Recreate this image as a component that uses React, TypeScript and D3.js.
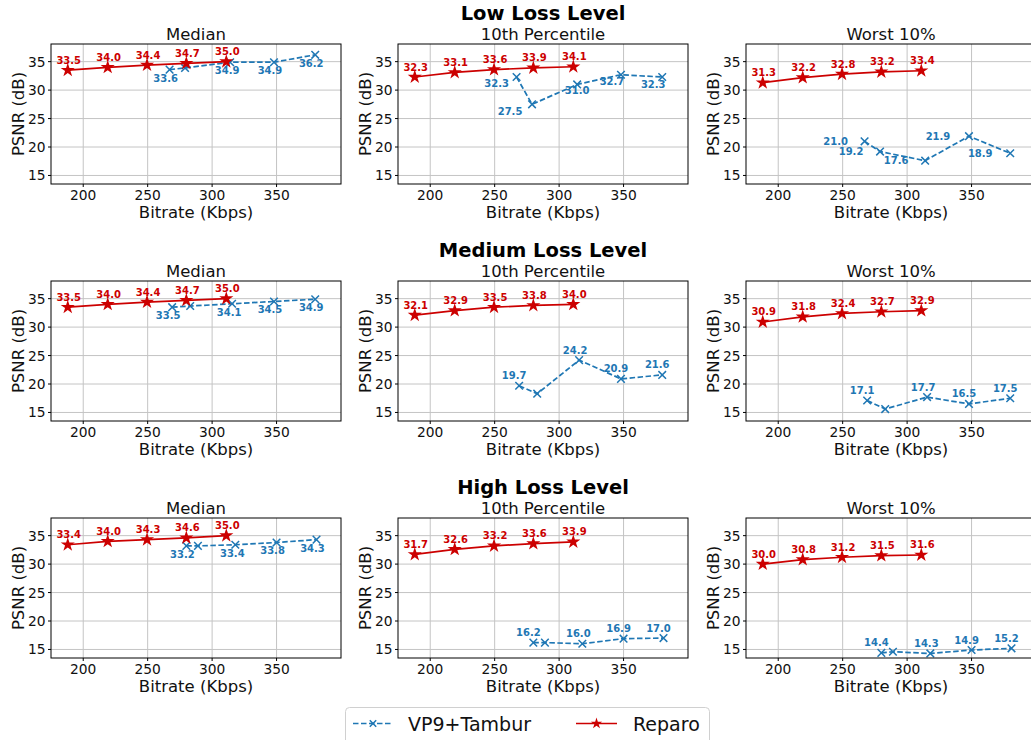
import React from "react";
import * as d3 from "d3";

// bitrates (Kbps)
const reparoBitrate = [188, 219, 249.5, 280, 311];
const tamburBitrateLow = [267, 279, 314, 348, 380];
const tamburBitrateMedium = [269, 283, 315.5, 348, 380];
const tamburBitrateHigh = [280, 289, 318, 350, 381];

const lossLevels = ["Low Loss Level", "Medium Loss Level", "High Loss Level"];
const metrics = ["Median", "10th Percentile", "Worst 10%"];

// Reparo PSNR (dB)
const reparoLowMedian = [33.5, 34.0, 34.4, 34.7, 35.0];
const reparoLowP10 = [32.3, 33.1, 33.6, 33.9, 34.1];
const reparoLowWorst = [31.3, 32.2, 32.8, 33.2, 33.4];
const reparoMedMedian = [33.5, 34.0, 34.4, 34.7, 35.0];
const reparoMedP10 = [32.1, 32.9, 33.5, 33.8, 34.0];
const reparoMedWorst = [30.9, 31.8, 32.4, 32.7, 32.9];
const reparoHighMedian = [33.4, 34.0, 34.3, 34.6, 35.0];
const reparoHighP10 = [31.7, 32.6, 33.2, 33.6, 33.9];
const reparoHighWorst = [30.0, 30.8, 31.2, 31.5, 31.6];

// VP9+Tambur PSNR (dB)
const tamburLowMedian = [33.6, 33.9, 34.9, 34.9, 36.2];
const tamburLowP10 = [32.3, 27.5, 31.0, 32.7, 32.3];
const tamburLowWorst = [21.0, 19.2, 17.6, 21.9, 18.9];
const tamburMedMedian = [33.5, 33.7, 34.1, 34.5, 34.9];
const tamburMedP10 = [19.7, 18.3, 24.2, 20.9, 21.6];
const tamburMedWorst = [17.1, 15.6, 17.7, 16.5, 17.5];
const tamburHighMedian = [33.2, 33.2, 33.4, 33.8, 34.3];
const tamburHighP10 = [16.2, 16.2, 16.0, 16.9, 17.0];
const tamburHighWorst = [14.4, 14.6, 14.3, 14.9, 15.2];

// which Tambur points carry a value label
const labelAll = [true, true, true, true, true];
const labelSkipSecond = [true, false, true, true, true];

const xTicks = [200, 250, 300, 350];
const yTicks = [15, 20, 25, 30, 35];

const RED = "#cc0000";
const BLUE = "#1f77b4";
const FONT = "DejaVu Sans, sans-serif";

const colLeft = [51, 398, 746];
const rowTop = [44, 281, 518];
const W = 290;
const H = 140;

// label nudges (px) for the Tambur annotations
const below = [[-4, 8.5], [-4, 8.5], [-3, 8.5], [-4, 8.5], [-4, 8.5]];
const above = [[-5, -10], [-5, -10], [-4, -10], [-5, -10], [-5, -10]];
const left = [[-29, 0], [-29, 0], [-29, 0], [-31, 0], [-30, 0]];
const lowP10Nudge = [[-20, 6], [-22, 7], [0, 6], [-9, 7], [-9, 7]];

const panels = [
  [
    { bx: tamburBitrateLow, r: reparoLowMedian, t: tamburLowMedian, show: labelSkipSecond, nudge: below },
    { bx: tamburBitrateLow, r: reparoLowP10, t: tamburLowP10, show: labelAll, nudge: lowP10Nudge },
    { bx: tamburBitrateLow, r: reparoLowWorst, t: tamburLowWorst, show: labelAll, nudge: left },
  ],
  [
    { bx: tamburBitrateMedium, r: reparoMedMedian, t: tamburMedMedian, show: labelSkipSecond, nudge: below },
    { bx: tamburBitrateMedium, r: reparoMedP10, t: tamburMedP10, show: labelSkipSecond, nudge: above },
    { bx: tamburBitrateMedium, r: reparoMedWorst, t: tamburMedWorst, show: labelSkipSecond, nudge: above },
  ],
  [
    { bx: tamburBitrateHigh, r: reparoHighMedian, t: tamburHighMedian, show: labelSkipSecond, nudge: below },
    { bx: tamburBitrateHigh, r: reparoHighP10, t: tamburHighP10, show: labelSkipSecond, nudge: above },
    { bx: tamburBitrateHigh, r: reparoHighWorst, t: tamburHighWorst, show: labelSkipSecond, nudge: above },
  ],
];

const starPath = d3.symbol().type(d3.symbolStar).size(62)() as string;
const legendStar = d3.symbol().type(d3.symbolStar).size(40)() as string;
const xPath = (s: number) => `M${-s},${-s}L${s},${s}M${-s},${s}L${s},${-s}`;

function Panel({ row, col }: { row: number; col: number }) {
  const p = panels[row][col];
  const x0 = colLeft[col];
  const y0 = rowTop[row];
  const x = d3.scaleLinear().domain([175, 400]).range([x0, x0 + W]);
  const y = d3.scaleLinear().domain([13.5, 38.1]).range([y0 + H, y0]);
  const line = d3
    .line<[number, number]>()
    .x((d) => x(d[0]))
    .y((d) => y(d[1]));
  const rPts = reparoBitrate.map((b, i) => [b, p.r[i]] as [number, number]);
  const tPts = p.bx.map((b, i) => [b, p.t[i]] as [number, number]);
  const clipId = `clip-${row}-${col}`;
  return (
    <g>
      <clipPath id={clipId}>
        <rect x={x0} y={y0} width={W} height={H} />
      </clipPath>
      {xTicks.map((t) => (
        <line key={"gx" + t} x1={x(t)} x2={x(t)} y1={y0} y2={y0 + H} stroke="#c4c4c4" strokeWidth={1} />
      ))}
      {yTicks.map((t) => (
        <line key={"gy" + t} x1={x0} x2={x0 + W} y1={y(t)} y2={y(t)} stroke="#c4c4c4" strokeWidth={1} />
      ))}
      <g clipPath={`url(#${clipId})`}>
        <path d={line(tPts) as string} fill="none" stroke={BLUE} strokeWidth={1.7} strokeDasharray="5.5,2.5" />
        {tPts.map((d, i) => (
          <path key={"tx" + i} d={xPath(3.8)} transform={`translate(${x(d[0])},${y(d[1])})`} stroke={BLUE} strokeWidth={1.5} fill="none" />
        ))}
        <path d={line(rPts) as string} fill="none" stroke={RED} strokeWidth={1.7} />
        {rPts.map((d, i) => (
          <path key={"rs" + i} d={starPath} transform={`translate(${x(d[0])},${y(d[1])})`} fill={RED} />
        ))}
      </g>
      {tPts.map((d, i) =>
        p.show[i] ? (
          <text
            key={"tl" + i}
            x={x(d[0]) + p.nudge[i][0]}
            y={y(d[1]) + p.nudge[i][1]}
            textAnchor="middle"
            dominantBaseline="central"
            fontSize={10}
            fontWeight="bold"
            fill={BLUE}
          >
            {d[1].toFixed(1)}
          </text>
        ) : null
      )}
      {rPts.map((d, i) => (
        <text
          key={"rl" + i}
          x={x(d[0]) + 1}
          y={y(d[1]) - 10}
          textAnchor="middle"
          dominantBaseline="central"
          fontSize={10}
          fontWeight="bold"
          fill={RED}
        >
          {d[1].toFixed(1)}
        </text>
      ))}
      <rect x={x0} y={y0} width={W} height={H} fill="none" stroke="#000" strokeWidth={1} />
      {xTicks.map((t) => (
        <g key={"xt" + t}>
          <line x1={x(t)} x2={x(t)} y1={y0 + H} y2={y0 + H + 3} stroke="#000" />
          <text x={x(t)} y={y0 + H + 10.5} textAnchor="middle" dominantBaseline="central" fontSize={13.8} fill="#111">
            {t}
          </text>
        </g>
      ))}
      {yTicks.map((t) => (
        <g key={"yt" + t}>
          <line x1={x0 - 3} x2={x0} y1={y(t)} y2={y(t)} stroke="#000" />
          <text x={x0 - 5.5} y={y(t)} textAnchor="end" dominantBaseline="central" fontSize={13.8} fill="#111">
            {t}
          </text>
        </g>
      ))}
      <text x={x0 + W / 2} y={y0 + H + 28} textAnchor="middle" dominantBaseline="central" fontSize={16.5} fill="#111">
        Bitrate (Kbps)
      </text>
      <text
        transform={`translate(${x0 - 33},${y0 + H / 2}) rotate(-90)`}
        textAnchor="middle"
        dominantBaseline="central"
        fontSize={16.5}
        fill="#111"
      >
        PSNR (dB)
      </text>
      <text x={x0 + W / 2} y={y0 - 10} textAnchor="middle" dominantBaseline="central" fontSize={16.5} fill="#111">
        {metrics[col]}
      </text>
    </g>
  );
}

export default function App() {
  return (
    <svg
      width={1031}
      height={740}
      style={{ position: "absolute", left: 0, top: 0, background: "#fff" }}
      fontFamily={FONT}
    >
      {lossLevels.map((lvl, r) => (
        <text
          key={lvl}
          x={colLeft[1] + W / 2}
          y={rowTop[r] - 31}
          textAnchor="middle"
          dominantBaseline="central"
          fontSize={19.5}
          fontWeight="bold"
          fill="#000"
        >
          {lvl}
        </text>
      ))}
      {[0, 1, 2].map((r) => [0, 1, 2].map((c) => <Panel key={`${r}-${c}`} row={r} col={c} />))}
      <g>
        <rect x={345.5} y={707.5} width={364} height={44} rx={4} fill="#fff" stroke="#d0d0d0" strokeWidth={1} />
        <line x1={353} x2={393} y1={723.5} y2={723.5} stroke={BLUE} strokeWidth={1.6} strokeDasharray="5.5,2.5" />
        <path d={xPath(3.2)} transform="translate(373,723.5)" stroke={BLUE} strokeWidth={1.5} fill="none" />
        <text x={408} y={723.5} dominantBaseline="central" fontSize={19} fill="#111">
          VP9+Tambur
        </text>
        <line x1={576} x2={617} y1={723.5} y2={723.5} stroke={RED} strokeWidth={1.6} />
        <path d={legendStar} transform="translate(596.5,723.5)" fill={RED} />
        <text x={633} y={723.5} dominantBaseline="central" fontSize={19} fill="#111">
          Reparo
        </text>
      </g>
    </svg>
  );
}
